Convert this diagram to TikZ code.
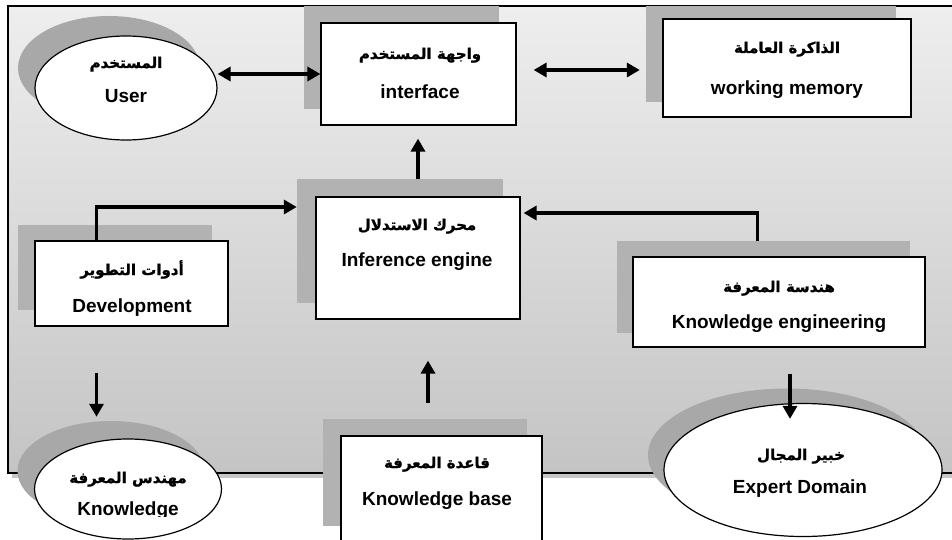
\documentclass[tikz,border=0pt]{standalone}
\usepackage{fontspec}
\setmainfont{Liberation Sans}
\newfontfamily\arabicfont[Script=Arabic, BoldFont={DejaVu Sans Bold}, BoldFeatures={FakeBold=1.2}]{DejaVu Sans}
\TeXXeTstate=1
\usetikzlibrary{shapes.geometric,arrows.meta}
\definecolor{shadowgray}{RGB}{178,178,178}
\definecolor{ellshadow}{RGB}{168,168,168}
\definecolor{bgtop}{RGB}{238,238,238}
\definecolor{bgbot}{RGB}{196,196,196}
\newcommand{\artxt}[1]{{\arabicfont\bfseries\fontsize{15}{18}\selectfont\beginR #1\endR}}
\newcommand{\entxt}[1]{{\bfseries\fontsize{19}{22}\selectfont #1}}
\tikzset{
  box/.style={draw, fill=white, line width=1.2pt, inner sep=0pt, rectangle},
  boxshadow/.style={fill=shadowgray, draw=none, inner sep=0pt, rectangle},
  oval/.style={draw, fill=white, line width=1.2pt, inner sep=0pt, ellipse},
  ovalshadow/.style={fill=ellshadow, draw=none, inner sep=0pt, ellipse},
  artext/.style={anchor=base, inner sep=0pt},
  entext/.style={anchor=base, inner sep=0pt},
  arr/.style={line width=3.6pt, -{Triangle[length=13pt,width=14pt]}},
  dblarr/.style={line width=3.6pt, {Triangle[length=13pt,width=14pt]}-{Triangle[length=13pt,width=14pt]}},
}
\begin{document}
\begin{tikzpicture}[x=1pt,y=-1pt]
\useasboundingbox (0,0) rectangle (952,540);
\clip (0,0) rectangle (952,540);
% frame
\fill[black!22] (12,473) rectangle (960,478);
\fill[top color=bgtop, bottom color=bgbot] (8,6) rectangle (960,473);
\draw[line width=1.5pt] (8,6) rectangle (960,473);

% shadows
\node[ovalshadow, minimum width=182pt, minimum height=104pt] (userS) at (109,68) {};
\node[boxshadow, minimum width=195pt, minimum height=103pt] (ifaceS) at (401.5,57.5) {};
\node[boxshadow, minimum width=250pt, minimum height=96pt] (wmS) at (771,54) {};
\node[boxshadow, minimum width=206pt, minimum height=124pt] (infS) at (400,241) {};
\node[boxshadow, minimum width=293pt, minimum height=92pt] (keS) at (763.5,287) {};
\node[boxshadow, minimum width=194pt, minimum height=85pt] (devS) at (115,267.5) {};
\node[boxshadow, minimum width=204pt, minimum height=107pt] (kbS) at (425,472.5) {};
\node[ovalshadow, minimum width=187pt, minimum height=100pt] (kengS) at (111,471) {};
\node[ovalshadow, minimum width=278pt, minimum height=133pt] (expertS) at (787,455) {};

% main shapes
\node[oval, minimum width=182pt, minimum height=104pt] (user) at (126,88) {};
\node[box, minimum width=195pt, minimum height=102pt] (iface) at (418.5,74) {};
\node[box, minimum width=248pt, minimum height=98pt] (wm) at (787,68) {};
\node[box, minimum width=204pt, minimum height=122pt] (inf) at (418,258) {};
\node[box, minimum width=292pt, minimum height=90pt] (ke) at (779,302) {};
\node[box, minimum width=193pt, minimum height=85pt] (dev) at (131.5,283.5) {};
\node[box, minimum width=201pt, minimum height=124pt] (kb) at (441.5,498) {};
\node[oval, minimum width=187pt, minimum height=100pt] (keng) at (128,489) {};
\node[oval, minimum width=278pt, minimum height=133pt] (expert) at (803,470) {};

% texts
\node[artext] (userA) at (126,68) {\artxt{المستخدم}};
\node[entext] (userE) at (126,103) {\entxt{User}};
\node[artext] (ifaceA) at (420,59) {\artxt{واجهة المستخدم}};
\node[entext] (ifaceE) at (420,99) {\entxt{interface}};
\node[artext] (wmA) at (787,53) {\artxt{الذاكرة العاملة}};
\node[entext] (wmE) at (787,95) {\entxt{working memory}};
\node[artext] (infA) at (417,230) {\artxt{محرك الاستدلال}};
\node[entext] (infE) at (417,266) {\entxt{Inference engine}};
\node[artext] (keA) at (779,292) {\artxt{هندسة المعرفة}};
\node[entext] (keE) at (779,328) {\entxt{Knowledge engineering}};
\node[artext] (devA) at (132,275) {\artxt{أدوات التطوير}};
\node[entext] (devE) at (132,312) {\entxt{Development}};
\node[artext] (kengA) at (128,483) {\artxt{مهندس المعرفة}};
\begin{scope}
\clip (0,0) rectangle (952,516.5);
\node[entext] (kengE) at (128,515) {\entxt{Knowledge}};
\end{scope}
\node[artext] (kbA) at (437,468) {\artxt{قاعدة المعرفة}};
\node[entext] (kbE) at (437,505) {\entxt{Knowledge base}};
\node[artext] (expertA) at (801,460) {\artxt{خبير المجال}};
\node[entext] (expertE) at (800,493) {\entxt{Expert Domain}};

% connectors
\draw[dblarr] (iface.west -| user.east) -- (iface.west);
\draw[dblarr, shorten <=17pt, shorten >=6pt] ([yshift=4pt]iface.east) -- ([yshift=4pt]iface.east -| wmS.west);
\draw[arr, shorten >=13pt] (inf.north |- infS.north) -- (iface.south -| inf.north);
\draw[arr, shorten >=3pt] ([xshift=-6pt]keS.north) |- ([yshift=45pt]inf.east);
\draw[arr] ([xshift=-35pt]dev.north) |- ([yshift=34pt]infS.west);
\draw[arr, shorten <=46pt, shorten >=4pt] ([xshift=-35pt]dev.south) -- ([xshift=-35pt]dev.south |- kengS.north);
\draw[arr, shorten <=16pt, shorten >=41pt] ([xshift=3pt]kbS.north) -- ([xshift=3pt]kbS.north |- inf.south);
\draw[arr, shorten <=26pt, shorten >=-16pt] ([xshift=11pt]ke.south) -- ([xshift=11pt]ke.south |- expert.north);
\end{tikzpicture}
\end{document}
